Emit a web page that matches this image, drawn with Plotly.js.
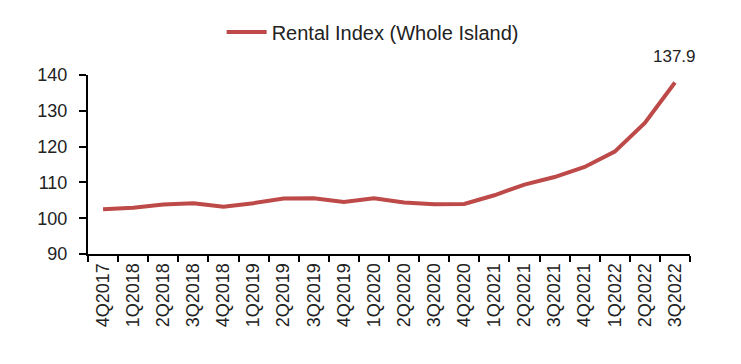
<!DOCTYPE html>
<html>
<head>
<meta charset="utf-8">
<script src="https://cdn.plot.ly/plotly-3.0.1.min.js"></script>
<style>
  html, body { margin: 0; padding: 0; background: #ffffff; }
  #chart { width: 741px; height: 364px; }
</style>
</head>
<body>
<div id="chart"></div>
<script>
const quarters = ["4Q2017","1Q2018","2Q2018","3Q2018","4Q2018","1Q2019","2Q2019","3Q2019","4Q2019","1Q2020",
                  "2Q2020","3Q2020","4Q2020","1Q2021","2Q2021","3Q2021","4Q2021","1Q2022","2Q2022","3Q2022"];
const rentalIndex = [102.5, 102.9, 103.8, 104.2, 103.2, 104.2, 105.5, 105.6, 104.5, 105.6,
                     104.4, 103.9, 104.0, 106.4, 109.4, 111.5, 114.3, 118.6, 126.6, 137.9];
const seriesName = "Rental Index (Whole Island)";
const yTicks = [90, 100, 110, 120, 130, 140];
const lastLabel = "137.9";

const lineColor = "#bd4a48";
const textColor = "#222222";
const fontFamily = "'Liberation Sans', Arial, sans-serif";

const trace = {
  x: quarters,
  y: rentalIndex,
  type: "scatter",
  mode: "lines",
  name: seriesName,
  line: { color: lineColor, width: 4 },
  showlegend: true
};

const layout = {
  width: 741,
  height: 364,
  margin: { l: 88, r: 51, t: 75, b: 110, pad: 0 },
  paper_bgcolor: "#ffffff",
  plot_bgcolor: "#ffffff",
  font: { family: fontFamily, size: 18, color: textColor },
  showlegend: true,
  legend: {
    orientation: "h",
    x: 0.222, xanchor: "left",
    y: 1.24, yanchor: "middle",
    font: { family: fontFamily, size: 20, color: textColor },
    bgcolor: "rgba(0,0,0,0)",
    itemwidth: 40
  },
  xaxis: {
    type: "category",
    categoryorder: "array",
    categoryarray: quarters,
    range: [-0.5, quarters.length - 0.5],
    showline: true,
    linecolor: "#000000",
    linewidth: 2,
    ticks: "outside",
    tickson: "boundaries",
    ticklen: 6,
    tickwidth: 2,
    tickcolor: "#000000",
    tickangle: -90,
    tickfont: { family: fontFamily, size: 18, color: textColor },
    showgrid: false,
    zeroline: false,
    fixedrange: true
  },
  yaxis: {
    range: [90, 140],
    tickvals: yTicks,
    ticktext: yTicks.map(String),
    showline: true,
    linecolor: "#000000",
    linewidth: 2,
    ticks: "outside",
    ticklen: 7,
    tickwidth: 2,
    tickcolor: "#000000",
    ticklabelstandoff: 8,
    tickfont: { family: fontFamily, size: 18, color: textColor },
    showgrid: false,
    zeroline: false,
    fixedrange: true
  },
  annotations: [{
    x: quarters[quarters.length - 1],
    y: rentalIndex[rentalIndex.length - 1],
    xref: "x", yref: "y",
    text: lastLabel,
    showarrow: false,
    xanchor: "center",
    yanchor: "bottom",
    yshift: 15,
    font: { family: fontFamily, size: 17, color: textColor }
  }]
};

Plotly.newPlot("chart", [trace], layout, { displayModeBar: false, staticPlot: true });
</script>
</body>
</html>
